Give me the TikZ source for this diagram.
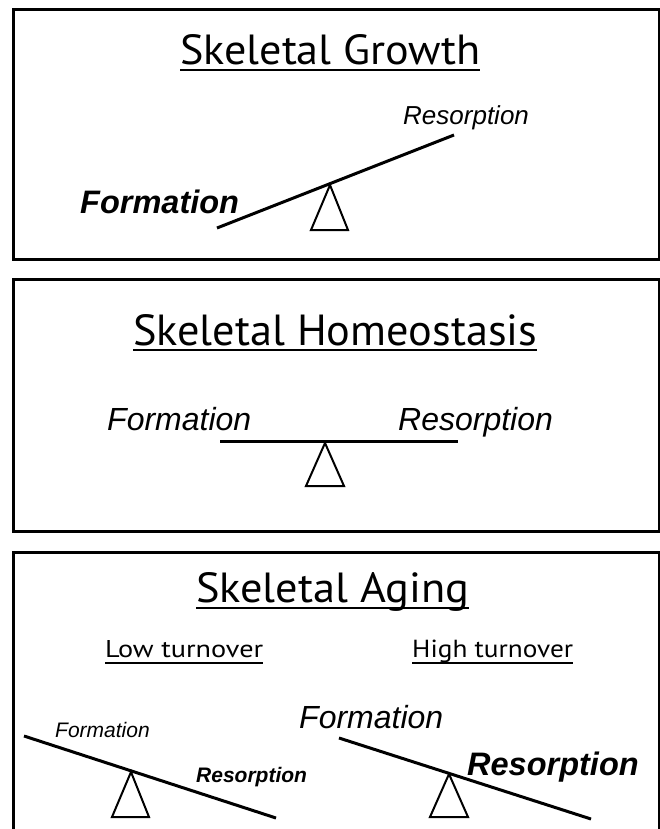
\documentclass[tikz,border=0pt]{standalone}
\usepackage{fontspec}
\setmainfont{Liberation Sans}
\newfontfamily\titlefont{PT Sans}
\usepackage{graphicx}
\newcommand{\fitto}[3]{\resizebox{#1pt}{#2pt}{#3}}
\begin{document}
\begin{tikzpicture}[x=1pt,y=-1pt,
  frame/.style={line width=3pt},
  beam/.style={line width=3pt},
  fulcrum/.style={line width=2pt, line join=miter, fill=white},
  uline/.style={line width=2pt},
  ttl/.style={inner sep=0pt, anchor=base west, font=\titlefont\fontsize{40}{48}\selectfont},
  lbl/.style={inner sep=0pt, anchor=base west},
  itl/.style={lbl, font=\itshape\fontsize{#1}{#1}\selectfont},
  bitl/.style={lbl, font=\bfseries\itshape\fontsize{#1}{#1}\selectfont}
]
\useasboundingbox[fill=white] (0,0) rectangle (659,829);

% ---------- Box 1: Skeletal Growth ----------
\draw[frame] (13,9.5) rectangle (659.3,259);
\node[ttl] (t1) at (180,65) {\fitto{300}{30}{Skeletal Growth}};
\draw[uline] ([yshift=-5.5pt]t1.base west) -- ([yshift=-5.5pt]t1.base east);
\node[itl=26] (r1) at (403,125) {Resorption};
\node[bitl=32.5] (f1) at (80,213) {Formation};
\coordinate (b1a) at (217,228);
\coordinate (b1b) at (454,135);
\coordinate (p1) at (330,185);
\coordinate (p1l) at (311,230);
\coordinate (p1r) at (348,230);
\draw[fulcrum] (p1) -- (p1l) -- (p1r) -- cycle;
\draw[beam] (b1a) -- (b1b);

% ---------- Box 2: Skeletal Homeostasis ----------
\draw[frame] (13,279.5) rectangle (659.3,531);
\node[ttl] (t2) at (133,345) {\fitto{404}{31}{Skeletal Homeostasis}};
\draw[uline] ([yshift=-4.5pt]t2.base west) -- ([yshift=-4.5pt]t2.base east);
\node[itl=32] (f2) at (107,430) {Formation};
\node[itl=32] (r2) at (398,430) {Resorption};
\coordinate (b2a) at (220,441);
\coordinate (b2b) at (458,441);
\coordinate (p2) at (325,443);
\coordinate (p2l) at (306,486);
\coordinate (p2r) at (344,486);
\draw[fulcrum] (p2) -- (p2l) -- (p2r) -- cycle;
\draw[beam] (b2a) -- (b2b);

% ---------- Box 3: Skeletal Aging ----------
\draw[frame] (13,830) -- (13,552.5) -- (659.3,552.5) -- (659.3,830);
\node[ttl] (t3) at (196,602) {\fitto{273}{30}{Skeletal Aging}};
\draw[uline] ([yshift=-6pt]t3.base west) -- ([yshift=-6pt]t3.base east);
\node[ttl] (lo) at (105,657) {\fitto{158}{17}{Low turnover}};
\draw[uline] ([yshift=-6pt]lo.base west) -- ([yshift=-6pt]lo.base east);
\node[ttl] (hi) at (412,657) {\fitto{161}{17.5}{High turnover}};
\draw[uline] ([yshift=-6pt]hi.base west) -- ([yshift=-6pt]hi.base east);

% low turnover seesaw
\node[itl=21] (f3l) at (55,737) {Formation};
\node[bitl=21] (r3l) at (196,782) {Resorption};
\coordinate (b3a) at (24,736);
\coordinate (b3b) at (276,818);
\coordinate (p3) at (131,772);
\coordinate (p3l) at (112,817);
\coordinate (p3r) at (149,817);
\draw[fulcrum] (p3) -- (p3l) -- (p3r) -- cycle;
\draw[beam] (b3a) -- (b3b);

% high turnover seesaw
\node[itl=32] (f3r) at (299,728) {Formation};
\node[bitl=32.5] (r3r) at (467,775) {Resorption};
\coordinate (b4a) at (339,738);
\coordinate (b4b) at (591,819);
\coordinate (p4) at (449,774);
\coordinate (p4l) at (430,817);
\coordinate (p4r) at (468,817);
\draw[fulcrum] (p4) -- (p4l) -- (p4r) -- cycle;
\draw[beam] (b4a) -- (b4b);
\end{tikzpicture}
\end{document}
